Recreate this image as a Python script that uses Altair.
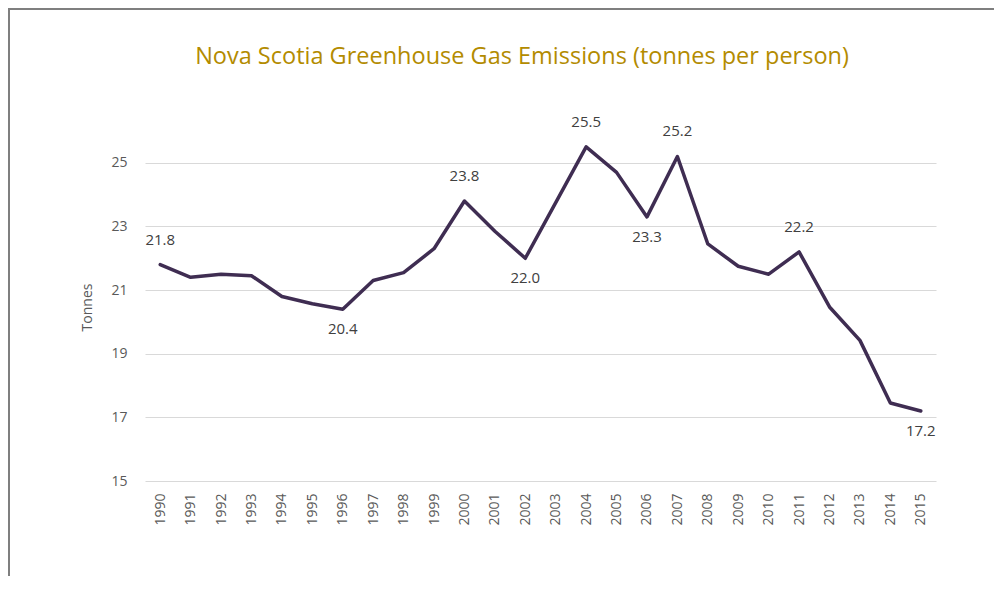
import altair as alt
import pandas as pd

years = [str(y) for y in range(1990, 2016)]
values = [21.8, 21.4, 21.5, 21.45, 20.8, 20.57, 20.4, 21.3, 21.55, 22.3,
          23.8, 22.85, 22.0, 23.75, 25.5, 24.7, 23.3, 25.2, 22.45, 21.75,
          21.5, 22.2, 20.47, 19.42, 17.45, 17.2]
labels_above = ["1990", "2000", "2004", "2007", "2011"]
labels_below = ["1996", "2002", "2006", "2015"]
y_ticks = [15, 17, 19, 21, 23, 25]
title_text = "Nova Scotia Greenhouse Gas Emissions (tonnes per person)"

df = pd.DataFrame({"year": years, "value": values})
df["label"] = [f"{v:.1f}" for v in values]

W, H = 791, 350
FONT = "Open Sans"

base = alt.Chart(df)
x = alt.X("year:O", title=None,
          scale=alt.Scale(type="point", padding=0.5),
          axis=alt.Axis(labelAngle=270, labelFontSize=14, labelColor="#595959",
                        labelFont=FONT, labelPadding=12, ticks=False, domain=False,
                        grid=False))
y = alt.Y("value:Q", title="Tonnes",
          scale=alt.Scale(domain=[15, 26], nice=False, zero=False),
          axis=alt.Axis(values=y_ticks, labelFontSize=14, labelColor="#595959",
                        labelFont=FONT, labelPadding=18, ticks=False, domain=False,
                        grid=True, gridColor="#d9d9d9", gridWidth=1,
                        titleFont=FONT, titleFontSize=14, titleColor="#595959",
                        titleFontWeight="normal", titleAngle=270,
                        titleAlign="center", titleBaseline="middle",
                        titleX=-58, titleY=176))

line = base.mark_line(color="#3F2D52", strokeWidth=3.5, strokeJoin="round",
                      strokeCap="round").encode(x=x, y=y)

above = base.transform_filter(
    alt.FieldOneOfPredicate(field="year", oneOf=labels_above)
).mark_text(dy=-25, font=FONT, fontSize=15, color="#404040").encode(
    x="year:O", y="value:Q", text="label:N")

below = base.transform_filter(
    alt.FieldOneOfPredicate(field="year", oneOf=labels_below)
).mark_text(dy=20, font=FONT, fontSize=15, color="#404040").encode(
    x="year:O", y="value:Q", text="label:N")

one = alt.Data(values=[{"t": title_text}])
title = alt.Chart(one).mark_text(font=FONT, fontSize=23.5, color="#B38B00",
                                  align="center", baseline="middle").encode(
    x=alt.value(377), y=alt.value(-74), text="t:N")

border_left = alt.Chart(one).mark_rule(color="#7f7f7f", strokeWidth=2).encode(
    x=alt.value(-136), y=alt.value(-122), y2=alt.value(H + 95))
border_top = alt.Chart(one).mark_rule(color="#7f7f7f", strokeWidth=2).encode(
    y=alt.value(-122), x=alt.value(-137), x2=alt.value(W + 70))

chart = alt.layer(border_left, border_top, title, line, above, below).properties(
    width=W, height=H,
    autosize=alt.AutoSizeParams(type="none"),
    padding={"left": 137, "top": 123, "right": 58, "bottom": 95},
    background="white",
).configure_view(stroke=None)

chart.save("out.html", embed_options={"renderer": "svg", "actions": False})
